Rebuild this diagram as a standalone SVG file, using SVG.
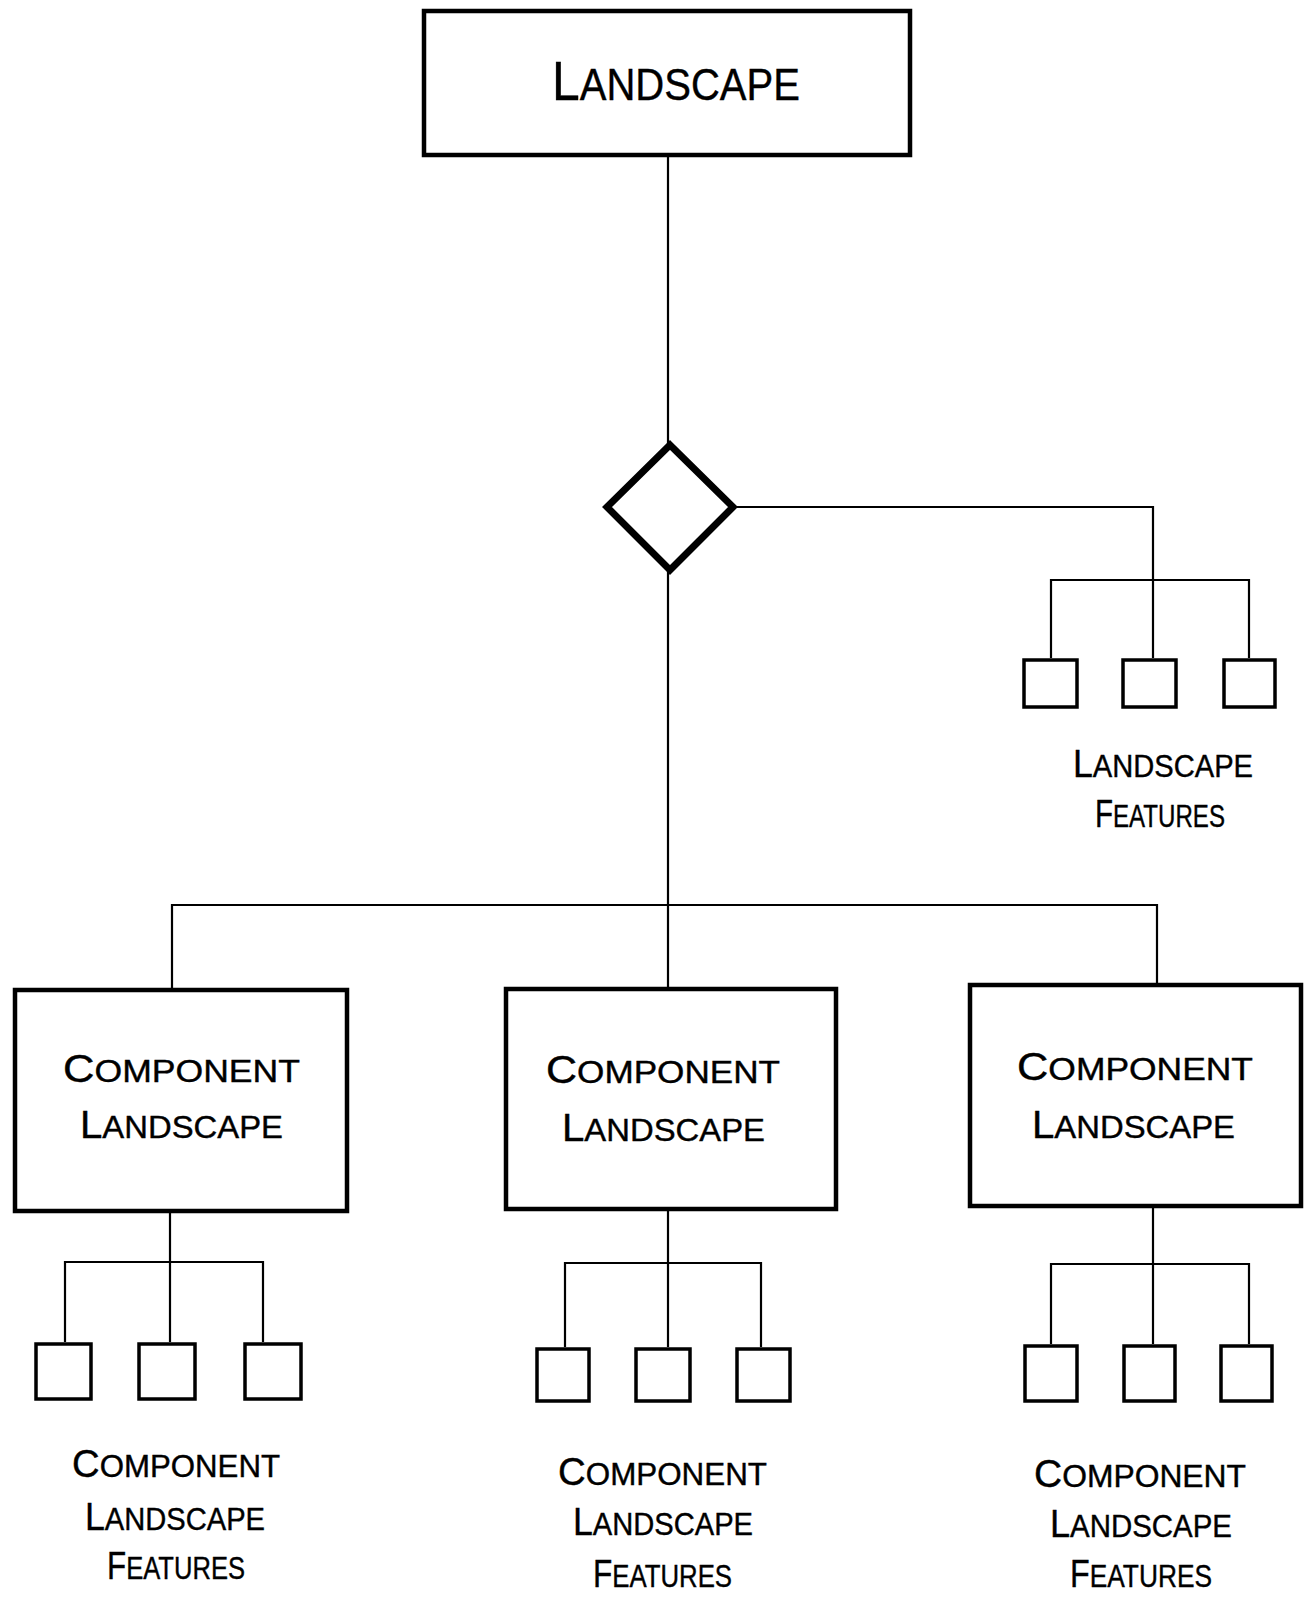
<svg xmlns="http://www.w3.org/2000/svg" width="1311" height="1603" viewBox="0 0 1311 1603">
<style>
  .box { fill: #fff; stroke: #000; stroke-width: 4.5; }
  .leaf { fill: #fff; stroke: #000; stroke-width: 3.5; }
  .diamond { fill: #fff; stroke: #000; stroke-width: 7; stroke-linejoin: miter; }
  .conn { fill: none; stroke: #000; stroke-width: 2.2; }
  text { font-family: "Liberation Sans", Arial, sans-serif; fill: #000; stroke: #000; stroke-width: 0.4; }
  .t1 .cap { font-size: 56px; } .t1 .sc { font-size: 45px; }
  .t2 .cap { font-size: 38px; } .t2 .sc { font-size: 31px; }
  .t3 .cap { font-size: 38px; } .t3 .sc { font-size: 31px; }
</style>
<rect width="1311" height="1603" fill="#fff"/>
<g id="connectors">
  <path class="conn" d="M668,157 V445"/>
  <path class="conn" d="M735,507 H1153 V658"/>
  <path class="conn" d="M1051,658 V580 H1249 V658"/>
  <path class="conn" d="M668,570 V988"/>
  <path class="conn" d="M172,988 V905 H1157 V984"/>
  <path class="conn" d="M170,1213 V1342"/>
  <path class="conn" d="M65,1342 V1262 H263 V1342"/>
  <path class="conn" d="M668,1211 V1347"/>
  <path class="conn" d="M565,1347 V1263 H761 V1347"/>
  <path class="conn" d="M1153,1208 V1344"/>
  <path class="conn" d="M1051,1344 V1264 H1249 V1344"/>
</g>
<g id="landscape">
  <rect class="box" x="424" y="11" width="486" height="144"/>
  <text class="t1" x="552" y="100" textLength="248" lengthAdjust="spacingAndGlyphs"><tspan class="cap">L</tspan><tspan class="sc">ANDSCAPE</tspan></text>
</g>
<g id="decision">
  <polygon class="diamond" points="670,445 733,507 670,570 607,507"/>
</g>
<g id="landscape-features">
  <rect class="leaf" x="1024" y="660" width="53" height="47"/>
  <rect class="leaf" x="1123" y="660" width="53" height="47"/>
  <rect class="leaf" x="1224" y="660" width="51" height="47"/>
  <text class="t3" x="1073" y="777" textLength="180" lengthAdjust="spacingAndGlyphs"><tspan class="cap">L</tspan><tspan class="sc">ANDSCAPE</tspan></text>
  <text class="t3" x="1095" y="827" textLength="130" lengthAdjust="spacingAndGlyphs"><tspan class="cap">F</tspan><tspan class="sc">EATURES</tspan></text>
</g>
<g id="component-landscape-1">
  <rect class="box" x="15" y="990" width="332" height="221"/>
  <text class="t2" x="63" y="1082" textLength="237" lengthAdjust="spacingAndGlyphs"><tspan class="cap">C</tspan><tspan class="sc">OMPONENT</tspan></text>
  <text class="t2" x="80" y="1138" textLength="203" lengthAdjust="spacingAndGlyphs"><tspan class="cap">L</tspan><tspan class="sc">ANDSCAPE</tspan></text>
</g>
<g id="component-landscape-2">
  <rect class="box" x="506" y="989" width="330" height="220"/>
  <text class="t2" x="546" y="1083" textLength="234" lengthAdjust="spacingAndGlyphs"><tspan class="cap">C</tspan><tspan class="sc">OMPONENT</tspan></text>
  <text class="t2" x="562" y="1141" textLength="203" lengthAdjust="spacingAndGlyphs"><tspan class="cap">L</tspan><tspan class="sc">ANDSCAPE</tspan></text>
</g>
<g id="component-landscape-3">
  <rect class="box" x="970" y="985" width="331" height="221"/>
  <text class="t2" x="1017" y="1080" textLength="236" lengthAdjust="spacingAndGlyphs"><tspan class="cap">C</tspan><tspan class="sc">OMPONENT</tspan></text>
  <text class="t2" x="1032" y="1138" textLength="203" lengthAdjust="spacingAndGlyphs"><tspan class="cap">L</tspan><tspan class="sc">ANDSCAPE</tspan></text>
</g>
<g id="component-features-1">
  <rect class="leaf" x="36" y="1344" width="55" height="55"/>
  <rect class="leaf" x="139" y="1344" width="56" height="55"/>
  <rect class="leaf" x="245" y="1344" width="56" height="55"/>
  <text class="t3" x="72" y="1477" textLength="208" lengthAdjust="spacingAndGlyphs"><tspan class="cap">C</tspan><tspan class="sc">OMPONENT</tspan></text>
  <text class="t3" x="85" y="1530" textLength="180" lengthAdjust="spacingAndGlyphs"><tspan class="cap">L</tspan><tspan class="sc">ANDSCAPE</tspan></text>
  <text class="t3" x="107" y="1579" textLength="138" lengthAdjust="spacingAndGlyphs"><tspan class="cap">F</tspan><tspan class="sc">EATURES</tspan></text>
</g>
<g id="component-features-2">
  <rect class="leaf" x="537" y="1349" width="52" height="52"/>
  <rect class="leaf" x="636" y="1349" width="54" height="52"/>
  <rect class="leaf" x="737" y="1349" width="53" height="52"/>
  <text class="t3" x="558" y="1485" textLength="209" lengthAdjust="spacingAndGlyphs"><tspan class="cap">C</tspan><tspan class="sc">OMPONENT</tspan></text>
  <text class="t3" x="573" y="1535" textLength="180" lengthAdjust="spacingAndGlyphs"><tspan class="cap">L</tspan><tspan class="sc">ANDSCAPE</tspan></text>
  <text class="t3" x="593" y="1587" textLength="139" lengthAdjust="spacingAndGlyphs"><tspan class="cap">F</tspan><tspan class="sc">EATURES</tspan></text>
</g>
<g id="component-features-3">
  <rect class="leaf" x="1025" y="1346" width="52" height="55"/>
  <rect class="leaf" x="1124" y="1346" width="51" height="55"/>
  <rect class="leaf" x="1221" y="1346" width="51" height="55"/>
  <text class="t3" x="1034" y="1487" textLength="212" lengthAdjust="spacingAndGlyphs"><tspan class="cap">C</tspan><tspan class="sc">OMPONENT</tspan></text>
  <text class="t3" x="1050" y="1537" textLength="182" lengthAdjust="spacingAndGlyphs"><tspan class="cap">L</tspan><tspan class="sc">ANDSCAPE</tspan></text>
  <text class="t3" x="1070" y="1587" textLength="142" lengthAdjust="spacingAndGlyphs"><tspan class="cap">F</tspan><tspan class="sc">EATURES</tspan></text>
</g>
</svg>
